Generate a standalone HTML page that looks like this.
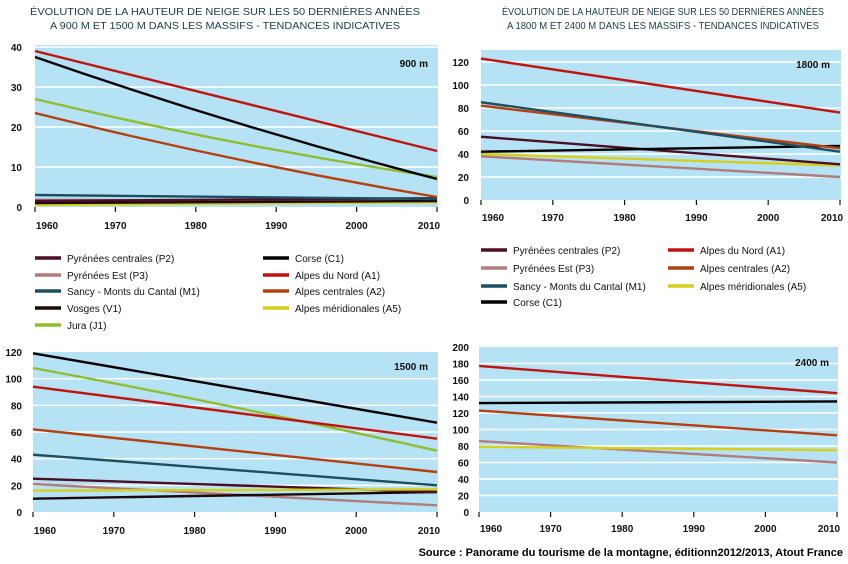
<!DOCTYPE html>
<html><head><meta charset="utf-8">
<style>
body{margin:0;background:#fff;width:848px;height:564px;overflow:hidden}
svg{display:block}
text{font-family:"Liberation Sans",sans-serif}
.t{font-size:10.5px;fill:#1a3a4a}
.k{font-size:10px;font-weight:bold;fill:#111}
.l{font-size:10px;fill:#111}
</style></head><body>
<svg id="s" width="848" height="564" xmlns="http://www.w3.org/2000/svg">
<text class="t" x="225" y="15" text-anchor="middle" textLength="390" lengthAdjust="spacingAndGlyphs">ÉVOLUTION DE LA HAUTEUR DE NEIGE SUR LES 50 DERNIÈRES ANNÉES</text>
<text class="t" x="225" y="29" text-anchor="middle" textLength="350" lengthAdjust="spacingAndGlyphs">A 900 M ET 1500 M DANS LES MASSIFS - TENDANCES INDICATIVES</text>
<text class="t" x="663" y="15" text-anchor="middle" textLength="322" lengthAdjust="spacingAndGlyphs">ÉVOLUTION DE LA HAUTEUR DE NEIGE SUR LES 50 DERNIÈRES ANNÉES</text>
<text class="t" x="663" y="29" text-anchor="middle" textLength="312" lengthAdjust="spacingAndGlyphs">A 1800 M ET 2400 M DANS LES MASSIFS - TENDANCES INDICATIVES</text>
<text x="843" y="556" text-anchor="end" style="font-size:11px;font-weight:bold;fill:#000">Source : Panorame du tourisme de la montagne, éditionn2012/2013, Atout France</text>
</svg>
<script>
var S=document.getElementById('s'),NS='http://www.w3.org/2000/svg';
function el(n,a,t){var e=document.createElementNS(NS,n);for(var k in a)e.setAttribute(k,a[k]);if(t!=null)e.textContent=t;S.appendChild(e);return e;}
var C={P2:'#4a0f26',P3:'#b27c7c',M1:'#1d4f60',V1:'#1c0808',J1:'#8fbd2c',C1:'#000',A1:'#c0150e',A2:'#b4400f',A5:'#d6cf1c'};
function chart(o){
 var x0=o.x0,x1=o.x1,y0=o.y0,ymx=o.ymax,yt=o.y1;
 function Y(v){return y0-(y0-yt)*v/ymx;}
 el('rect',{x:x0,y:o.top,width:x1-x0+1,height:y0-o.top,fill:'#b6e2f5'});
 for(var v=o.step;v<=ymx;v+=o.step){if(Y(v)>o.top)el('line',{x1:x0,x2:x1+1,y1:Y(v),y2:Y(v),stroke:'#fff','stroke-width':1.5});}
 for(var v=0;v<=ymx;v+=o.step)el('text',{class:'k',x:o.lx,y:Y(v)+4,'text-anchor':'end'},v);
 for(var i=0;i<6;i++){var x=x0+(x1-x0)*i/5;el('line',{x1:x,x2:x,y1:y0,y2:y0+5,stroke:'#111','stroke-width':1.2});
  el('text',{class:'k',x:i==0?x+12:(i==5?x-8:x),y:o.xl,'text-anchor':'middle'},1960+i*10);}
 o.s.forEach(function(s){var a=s[1],b=s[2],m=s[3];
  var d='M'+x0+' '+Y(a)+(m!=null?' Q'+((x0+x1)/2)+' '+Y(m)+' '+x1+' '+Y(b):' L'+x1+' '+Y(b));
  el('path',{d:d,stroke:C[s[0]],'stroke-width':2.4,fill:'none'});});
 el('text',{class:'k',x:o.lab[0],y:o.lab[1],'text-anchor':'end'},o.name);
}
chart({x0:35,x1:437,y0:207,y1:47,top:45,ymax:40,step:10,lx:22,xl:229,name:'900 m',lab:[428,67],
 s:[['P3',1.8,1.5],['A5',0.5,1.2],['V1',1,1.5],['P2',1.5,2.2],['M1',3,2],['A2',23.5,2.5,11],['J1',27,7.5,15],['C1',37.5,7,20],['A1',39,14]]});
chart({x0:481,x1:840,y0:200,y1:62,top:50,ymax:120,step:20,lx:469,xl:221,name:'1800 m',lab:[830,68],
 s:[['P3',38,20],['A5',40,30],['P2',55,31],['C1',42,47],['A2',82,45],['M1',85,42],['A1',123,76]]});
chart({x0:33,x1:437,y0:512,y1:352,top:352,ymax:120,step:20,lx:22,xl:534,name:'1500 m',lab:[428,370],
 s:[['P3',21,5],['V1',10,15],['P2',25,15],['A5',16,17],['M1',43,20],['A2',62,30],['J1',108,46,80],['A1',94,55],['C1',119,67]]});
chart({x0:479,x1:837,y0:512,y1:347,top:347,ymax:200,step:20,lx:469,xl:532,name:'2400 m',lab:[829,366],
 s:[['P3',86,60],['A5',79,75],['A2',123,93],['C1',132,134],['A1',177,144]]});
function leg(x,y,c,t){el('line',{x1:x,x2:x+26,y1:y,y2:y,stroke:C[c],'stroke-width':3.5});el('text',{class:'l',x:x+32,y:y+4},t);}
leg(35,258,'P2','Pyrénées centrales (P2)');leg(35,275,'P3','Pyrénées Est (P3)');leg(35,291,'M1','Sancy - Monts du Cantal (M1)');leg(35,308,'V1','Vosges (V1)');leg(35,325,'J1','Jura (J1)');
leg(263,258,'C1','Corse (C1)');leg(263,275,'A1','Alpes du Nord (A1)');leg(263,291,'A2','Alpes centrales (A2)');leg(263,308,'A5','Alpes méridionales (A5)');
leg(481,250,'P2','Pyrénées centrales (P2)');leg(481,268,'P3','Pyrénées Est (P3)');leg(481,286,'M1','Sancy - Monts du Cantal (M1)');leg(481,302,'C1','Corse (C1)');
leg(668,250,'A1','Alpes du Nord (A1)');leg(668,268,'A2','Alpes centrales (A2)');leg(668,286,'A5','Alpes méridionales (A5)');
</script>
</body></html>
